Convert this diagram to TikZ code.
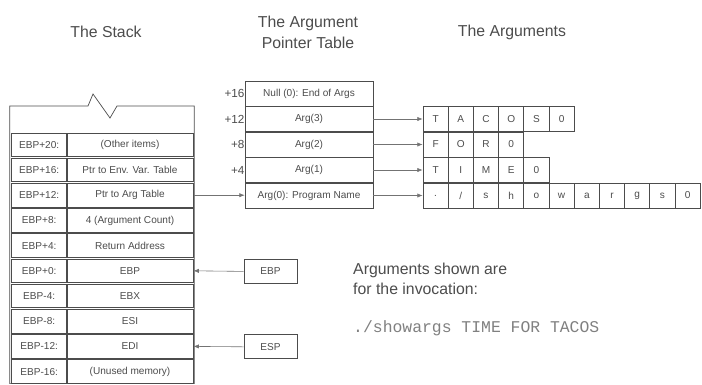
\documentclass[tikz,border=0pt]{standalone}
\usepackage{fontspec}
\setmainfont{Liberation Sans}
\setmonofont{Liberation Mono}
\usetikzlibrary{arrows.meta}

\newcommand{\cellfnt}{\fontsize{8.6}{10}\selectfont}
\newcommand{\offfnt}{\fontsize{10}{12}\selectfont}
\newcommand{\titlefnt}{\fontsize{13.5}{16}\selectfont}

\tikzset{
  frame/.style={draw=black!70, line width=0.6pt},
  lblcell/.style={frame, minimum width=1.66cm, minimum height=0.708cm, font=\cellfnt},
  valcell/.style={frame, minimum width=3.79cm, minimum height=0.708cm, font=\cellfnt},
  ptrcell/.style={frame, minimum width=3.84cm, minimum height=0.759cm, font=\cellfnt},
  charcell/.style={frame, minimum width=0.756cm, minimum height=0.759cm, font=\cellfnt},
  regbox/.style={frame, minimum width=1.59cm, minimum height=0.72cm, font=\cellfnt},
  ptr/.style={draw=black!55, line width=0.5pt, -{Latex[length=4.5pt, width=3.6pt]}}
}

\begin{document}
\begin{tikzpicture}[x=0.03cm, y=-0.03cm, every node/.style={text=black!70, inner sep=0pt}]
  \useasboundingbox (0,0) rectangle (702,384);
  % Titles
  \node[font=\titlefnt] (ttlstack) at (106,32) {The Stack};
  \node[font=\titlefnt, align=center] (ttltable) at (308,32) {The Argument\\[2pt]Pointer Table};
  \node[font=\titlefnt] (ttlargs) at (512,32) {The Arguments};
  % Stack outline with break mark
  \draw[frame] (9.8,383.6) -- (9.8,106) -- (88,106) -- (93,94) -- (110,118)
    -- (117,106) -- (194.2,106) -- (194.2,383.6) -- cycle;
  % Stack slots
  \foreach \lab/\txt [count=\i] in {EBP+20:/(Other items), EBP+16:/Ptr to Env. Var. Table,
      EBP+12:/Ptr to Arg Table, EBP+8:/4 (Argument Count), EBP+4:/Return Address,
      EBP+0:/EBP, EBP-4:/EBX, EBP-8:/ESI, EBP-12:/EDI, EBP-16:/(Unused memory)} {
    \node[lblcell] (sl\i) at (39.2, {132.2+25.2*(\i-0.5)}) {\lab};
    \node[valcell] (sv\i) at (130, {132.2+25.2*(\i-0.5)}) {\txt};
  }
  % Argument pointer table
  \foreach \nm/\txt/\off/\yc in {pnull/{Null (0): End of Args}/+16/93.5,
      p3/Arg(3)/+12/119, p2/Arg(2)/+8/144.5, p1/Arg(1)/+4/170,
      p0/{Arg(0): Program Name}//195.5} {
    \node[ptrcell, label={[font=\offfnt, text=black!70, anchor=east]west:\off},
      label distance=0.27cm] (\nm) at (309,\yc) {\txt};
  }
  % The argument strings
  \foreach \nm/\chars in {p3/{T,A,C,O,S,0}, p2/{F,O,R,0}, p1/{T,I,M,E,0},
      p0/{., {/}, s, h, o, w, a, r, g, s, 0}} {
    \foreach \c [count=\k] in \chars {
      \node[charcell] (\nm c\k) at ({423+25.2*(\k-0.5)}, 0 |- \nm) {\c};
    }
    \draw[ptr] (\nm.east) -- (\nm c1.west);
  }
  % argv pointer
  \draw[ptr] (sv3.east) -- (sv3.east -| p0.west);
  % Frame and stack pointer registers
  \node[regbox] (ebp) at (270.5,271.4) {EBP};
  \node[regbox] (esp) at (270.5,346.8) {ESP};
  \draw[ptr] (ebp.west) -- (sv6.east);
  \draw[ptr] (esp.west) -- (sv9.east);
  % Note on the invocation
  \node[font=\titlefnt, align=left, anchor=west] (note) at (353,279)
    {Arguments shown are\\[1pt]for the invocation:};
  \node[font=\fontsize{14}{16}\ttfamily, text=black!50, anchor=west] (cmd) at (353,328)
    {./showargs TIME FOR TACOS};
\end{tikzpicture}
\end{document}
